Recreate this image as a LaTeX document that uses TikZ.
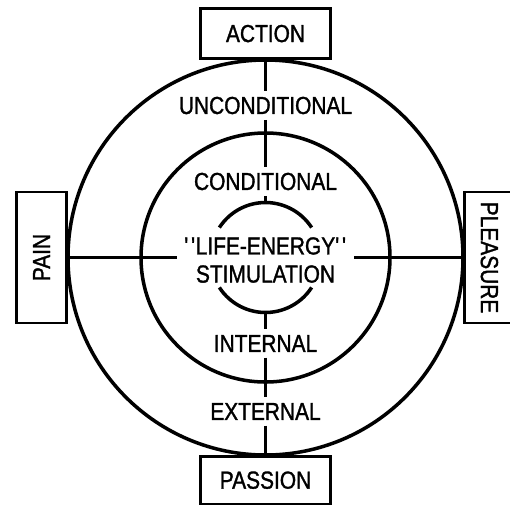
\documentclass[tikz,border=0pt]{standalone}
\usepackage{fontspec}
\usepackage{graphicx}
\newfontfamily\lblfont[FakeStretch=0.85,FakeBold=1.3]{Liberation Sans}
\usetikzlibrary{positioning}
\newcommand{\ticks}{\textquotesingle\kern1.2pt\textquotesingle}
\tikzset{
  ring/.style={line width=2pt},
  axis/.style={line width=1.3pt},
  tagbox/.style n args={2}{draw, line width=1.6pt, minimum width=#1, minimum height=#2,
        inner sep=0pt, font=\lblfont\fontsize{14}{16}\selectfont},
  lbl/.style={font=\lblfont\fontsize{14}{16}\selectfont, inner sep=3pt, align=center},
}

\begin{document}
\begin{tikzpicture}[node distance=0pt]
  \useasboundingbox (-5.31,-4.97) rectangle (4.89,5.15);
  \def\rout{3.95}
  \def\rin{2.49}
  \def\rcore{1.1}
  % rings
  \draw[ring] (0,0) circle (\rout);
  \draw[ring] (0,0) circle (\rin);
  \draw[ring] (33:\rcore) arc (33:147:\rcore);
  \draw[ring] (213:\rcore) arc (213:327:\rcore);
  % touch points on the rings
  \coordinate (otop)   at (90:\rout);
  \coordinate (obot)   at (270:\rout);
  \coordinate (oleft)  at (180:\rout);
  \coordinate (oright) at (0:\rout);
  \coordinate (ctop)   at (90:\rcore);
  \coordinate (cbot)   at (270:\rcore);
  % poles
  \node[tagbox={2.6cm}{1cm}, above=of otop] (action) {ACTION};
  \node[tagbox={2.6cm}{0.95cm}, below=of obot] (passion) {PASSION};
  \node[tagbox={1cm}{2.62cm}, left=of oleft] (pain) {\rotatebox{90}{PAIN}};
  \node[tagbox={1cm}{2.62cm}, right=of oright] (pleasure) {\rotatebox{-90}{PLEASURE}};
  % ring labels
  \node[lbl] (uncond)   at (0,3.04)  {UNCONDITIONAL};
  \node[lbl] (cond)     at (0,1.52)  {CONDITIONAL};
  \node[lbl, inner xsep=4pt] (core) at (0,-0.05) {\ticks LIFE-ENERGY\ticks\\STIMULATION};
  \node[lbl] (internal) at (0,-1.72) {INTERNAL};
  \node[lbl] (external) at (0,-3.08) {EXTERNAL};
  % axes
  \draw[axis] (action) -- (uncond);
  \draw[axis] (uncond) -- (cond);
  \draw[axis] (cond) -- (ctop);
  \draw[axis] (cbot) -- (internal);
  \draw[axis] (internal) -- (external);
  \draw[axis] (external) -- (passion);
  \draw[axis] (pain) -- (pain -| core.west);
  \draw[axis] (pleasure) -- (pleasure -| core.east);
\end{tikzpicture}
\end{document}
